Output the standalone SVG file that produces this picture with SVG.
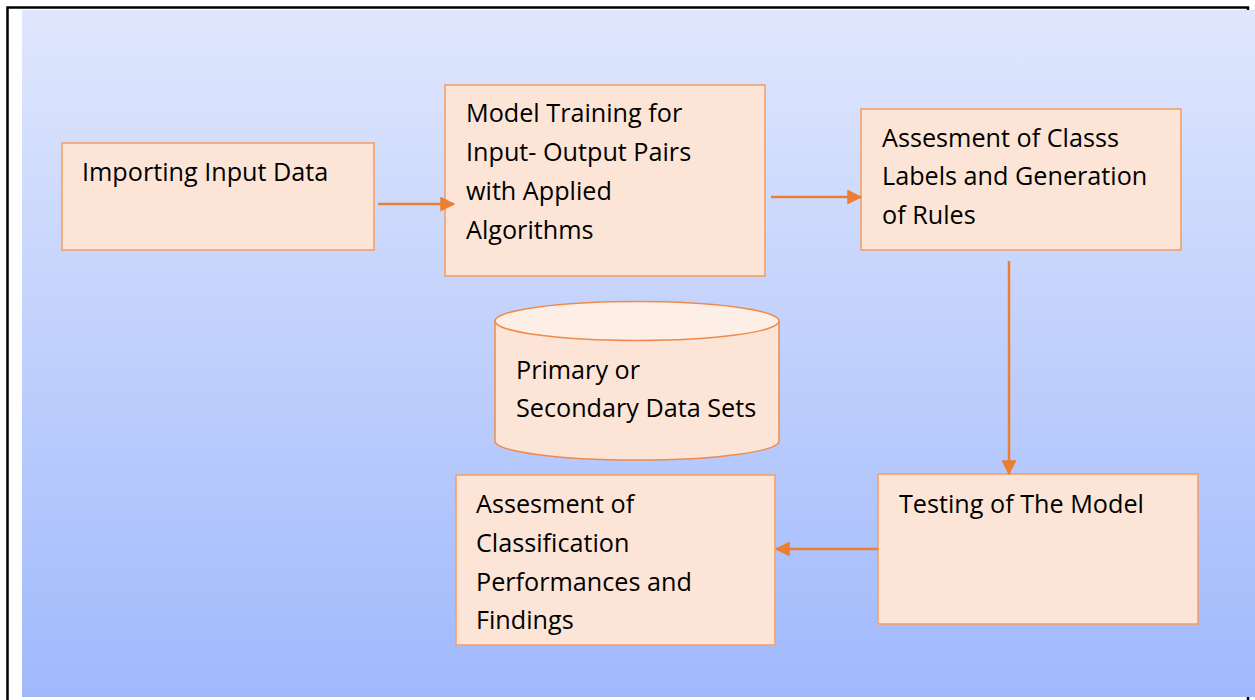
<svg xmlns="http://www.w3.org/2000/svg" width="1255" height="700" viewBox="0 0 1255 700">
<defs>
<linearGradient id="bg" x1="0" y1="0" x2="0" y2="1">
<stop offset="0" stop-color="#e0e7fd"/>
<stop offset="1" stop-color="#a0b9fc"/>
</linearGradient>
<marker id="ah" markerWidth="6" markerHeight="6" refX="5.5" refY="3" orient="auto" markerUnits="strokeWidth">
<path d="M0,0 L6,3 L0,6 Z" fill="#ed7d31"/>
</marker>
<style>
.box{fill:#fce5d6;stroke:#f4a06a;stroke-width:1.6}
.t{font-family:"Open Sans","Liberation Sans",Arial,sans-serif;font-size:25.2px;fill:#000}
.c{stroke:#ed7d31;stroke-width:2.5;fill:none;marker-end:url(#ah)}
</style>
</defs>
<rect x="0" y="0" width="1255" height="700" fill="#fff"/>
<rect x="22" y="10" width="1233" height="687" fill="url(#bg)"/>
<path d="M7.5,700 V7.5 H1248 V10" fill="none" stroke="#000" stroke-width="2.5"/>
<path d="M1248,697 V700" fill="none" stroke="#000" stroke-width="2.5"/>
<g id="n1">
<rect class="box" x="62" y="143" width="312" height="107"/>
<text class="t" x="82" y="181">Importing Input Data</text>
</g>
<g id="n2">
<rect class="box" x="445" y="85" width="320" height="191"/>
<text class="t" x="466" y="122">Model Training for</text>
<text class="t" x="466" y="161">Input- Output Pairs</text>
<text class="t" x="466" y="200">with Applied</text>
<text class="t" x="466" y="239">Algorithms</text>
</g>
<g id="n3">
<rect class="box" x="861" y="109" width="320" height="141"/>
<text class="t" x="882" y="147">Assesment of Classs</text>
<text class="t" x="882" y="185">Labels and Generation</text>
<text class="t" x="882" y="224">of Rules</text>
</g>
<g id="n4">
<path d="M495,321 V441 A142,19 0 0 0 779,441 V321" fill="#fce5d6" stroke="#f08a4b" stroke-width="1.5"/>
<ellipse cx="637" cy="321" rx="142" ry="19.5" fill="#fdefe6" stroke="#f08a4b" stroke-width="1.5"/>
<text class="t" x="516" y="379">Primary or</text>
<text class="t" x="516" y="417">Secondary Data Sets</text>
</g>
<g id="n5">
<rect class="box" x="878" y="474" width="320" height="150"/>
<text class="t" x="899" y="513">Testing of The Model</text>
</g>
<g id="n6">
<rect class="box" x="456" y="475" width="319" height="170"/>
<text class="t" x="476" y="513">Assesment of</text>
<text class="t" x="476" y="552">Classification</text>
<text class="t" x="476" y="591">Performances and</text>
<text class="t" x="476" y="629">Findings</text>
</g>
<g id="connectors">
<line class="c" x1="378" y1="204" x2="454" y2="204"/>
<line class="c" x1="771" y1="197" x2="861" y2="197"/>
<line class="c" x1="1009" y1="261" x2="1009" y2="474"/>
<line class="c" x1="878" y1="549" x2="776" y2="549"/>
</g>
</svg>
